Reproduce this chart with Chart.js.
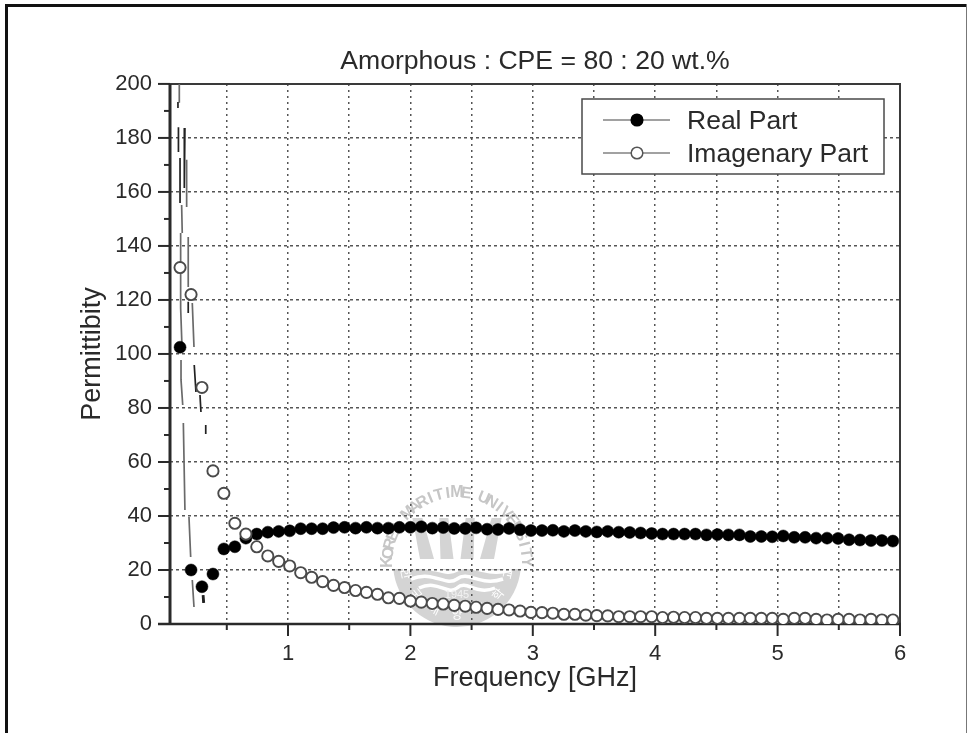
<!DOCTYPE html>
<html>
<head>
<meta charset="utf-8">
<title>Amorphous : CPE = 80 : 20 wt.%</title>
<script src="https://cdn.jsdelivr.net/npm/chart.js@4"></script>
<style>html,body{margin:0;padding:0;background:#fff}canvas{display:block}</style>
</head>
<body>
<canvas id="c" width="968" height="733"></canvas>
<script>
const titleText = 'Amorphous : CPE = 80 : 20 wt.%';
const xTitle = 'Frequency [GHz]';
const yTitle = 'Permittibity';
const seriesNames = ['Real Part', 'Imagenary Part'];

const frequency = [0.118,0.208,0.297,0.387,0.476,0.566,0.656,0.745,0.835,0.924,1.014,1.104,1.193,1.283,1.372,1.462,1.552,1.641,1.731,1.820,1.910,2.000,2.089,2.179,2.268,2.358,2.448,2.537,2.627,2.716,2.806,2.896,2.985,3.075,3.164,3.254,3.344,3.433,3.523,3.612,3.702,3.792,3.881,3.971,4.060,4.150,4.240,4.329,4.419,4.508,4.598,4.688,4.777,4.867,4.956,5.046,5.136,5.225,5.315,5.404,5.494,5.584,5.673,5.763,5.852,5.942];
const realPart = [102.5,20,13.8,18.5,27.8,28.6,31.8,33.3,34,34.3,34.5,35.3,35.3,35.3,35.7,35.8,35.5,35.8,35.5,35.5,35.8,35.8,36,35.5,35.7,35.4,35.4,35.6,35.1,35,35.4,34.9,34.6,34.6,34.7,34.3,34.6,34.3,34.1,34.3,34,33.9,33.7,33.5,33.3,33.3,33.3,33.3,33,33.1,33,33,32.4,32.4,32.3,32.6,32.1,32.1,31.8,31.8,31.7,31.2,31.1,30.9,30.9,30.7];
const imagPart = [132,122,87.6,56.7,48.4,37.3,33.3,28.6,25.2,23.2,21.5,19,17.3,15.7,14.3,13.5,12.4,11.7,11,9.7,9.5,8.5,8.1,7.6,7.4,6.9,6.6,6.2,5.8,5.4,5.2,4.8,4.3,4.2,4,3.6,3.6,3.3,3.1,3,2.7,2.7,2.7,2.7,2.4,2.5,2.4,2.4,2.1,2.1,2.1,2.1,2.1,2.1,2.1,1.7,2.1,2.1,1.7,1.5,1.7,1.7,1.5,1.7,1.5,1.5];

// Surviving fragments of the connecting traces (null = gap), in GHz / permittivity units
const darkTraceX = [0.101,0.101,null,0.105,0.105,null,0.118,0.118,null,0.158,0.153,null,0.185,0.185,null,0.234,0.248,null,0.281,0.289,null,0.328,0.328,null,0.302,0.306,null,0.311,0.316];
const darkTraceY = [193.3,191.1,null,184,174.8,null,172.6,155.9,null,183.7,161.5,null,119.3,115.2,null,95.9,85.9,null,84.8,78.5,null,73.7,70.4,null,10.7,7.8,null,10.7,7.8];
const grayTraceX = [0.112,0.112,null,0.131,0.136,null,0.123,0.123,null,0.123,0.123,0.134,null,0.126,0.126,0.140,null,0.145,0.158,null,0.191,0.205,null,0.218,0.232,null,0.172,0.172,null,0.185,0.185,null,0.218,0.232];
const grayTraceY = [200.2,193,null,155.2,144.8,null,144.8,133.7,null,130,117,102.6,null,97.8,90.4,81.1,null,74.4,42.2,null,39.6,24.8,null,16.3,6.3,null,171.9,154.4,null,143.3,124.8,null,118.9,102.6];

const xTicks = [0.5,1,1.5,2,2.5,3,3.5,4,4.5,5,5.5,6];
const xLabelled = [1,2,3,4,5,6];
const yTicks = [0,20,40,60,80,100,120,140,160,180,200];
const yMinor = [10,30,50,70,90,110,130,150,170,190];
const xMin = 0.036, xMax = 6, yMin = 0, yMax = 200;
const watermarkTop = 'KOREA MARITIME UNIVERSITY';
const watermarkBottom = '한 국 해 양 대 학 교';
const watermarkYear = '1945';

const FONT = '"Liberation Sans", Arial, sans-serif';
const ink = '#2a2a2a';
const zip = (xs, ys) => xs.map((x, i) => ({x, y: ys[i]}));

const paperFrame = {
  id: 'paperFrame',
  beforeDraw(chart) {
    const c = chart.ctx;
    c.save();
    c.fillStyle = '#fff';
    c.fillRect(0, 0, chart.width, chart.height);
    c.fillStyle = '#111';
    c.fillRect(5, 4, 962, 3);
    c.fillRect(5, 4, 3, 729);
    c.fillStyle = '#777';
    c.fillRect(966, 4, 1, 729);
    // watermark emblem
    const cx = 457, cy = 562;
    const g = '#d4d4d4';
    c.beginPath();
    c.arc(cx, cy + 1, 64, 0.03 * Math.PI, 0.97 * Math.PI);
    c.closePath();
    c.fillStyle = g;
    c.fill();
    c.strokeStyle = '#fff';
    c.lineWidth = 3.5;
    [6, 15, 24].forEach((dy, k) => {
      const w = 54 - k * 8;
      c.beginPath();
      c.moveTo(cx - w, cy + dy + 2);
      c.bezierCurveTo(cx - w / 2, cy + dy - 7, cx - w / 4, cy + dy + 10, cx, cy + dy + 2);
      c.bezierCurveTo(cx + w / 4, cy + dy - 7, cx + w / 2, cy + dy + 10, cx + w, cy + dy + 2);
      c.stroke();
    });
    c.fillStyle = g;
    [[-30, 14, -12], [-10, 13, -4], [10, 13, 4], [30, 14, 12]].forEach(([dx, w, lean]) => {
      c.beginPath();
      c.moveTo(cx + dx - w / 2 + lean * 0.8 + 2, cy - 44);
      c.lineTo(cx + dx + w / 2 + lean * 0.8 - 2, cy - 44);
      c.lineTo(cx + dx + w / 2, cy - 3);
      c.lineTo(cx + dx - w / 2, cy - 3);
      c.closePath();
      c.fill();
    });
    const arcText = (text, radius, from, to, font, color, flip) => {
      c.font = font;
      c.fillStyle = color;
      c.textAlign = 'center';
      c.textBaseline = 'middle';
      const chars = Array.from(text);
      chars.forEach((ch, i) => {
        const a = from + (to - from) * i / (chars.length - 1);
        c.save();
        c.translate(cx + radius * Math.cos(a), cy + radius * Math.sin(a));
        c.rotate(flip ? a - Math.PI / 2 : a + Math.PI / 2);
        c.fillText(ch, 0, 0);
        c.restore();
      });
    };
    arcText(watermarkTop, 69, Math.PI * 1.0, Math.PI * 2.0, 'bold 16px ' + FONT, '#c6c6c6', false);
    arcText(watermarkBottom, 52, Math.PI * 0.93, Math.PI * 0.07, '12px "Noto Sans CJK KR"', '#fff', true);
    c.font = '11px ' + FONT;
    c.fillStyle = '#f2f2f2';
    c.textAlign = 'center';
    c.textBaseline = 'middle';
    c.fillText(watermarkYear, cx, cy + 33);
    c.restore();
  }
};

const axesFrame = {
  id: 'axesFrame',
  beforeDatasetsDraw(chart) {
    const {ctx: c, chartArea: a, scales: {x, y}} = chart;
    c.save();
    c.lineCap = 'butt';
    const seg = (x1, y1, x2, y2, w, col) => {
      c.beginPath(); c.moveTo(x1, y1); c.lineTo(x2, y2);
      c.lineWidth = w; c.strokeStyle = col; c.stroke();
    };
    seg(a.left - 1.5, a.top, a.right + 1, a.top, 2, '#3a3a3a');
    seg(a.right, a.top, a.right, a.bottom, 2, '#3a3a3a');
    seg(a.left, a.top, a.left, a.bottom + 1, 3, '#2a2a2a');
    seg(a.left - 12, a.bottom, a.right + 1, a.bottom, 2.5, '#2a2a2a');
    yTicks.forEach(v => { const p = y.getPixelForValue(v); seg(a.left - 12, p, a.left, p, 2, '#2a2a2a'); });
    yMinor.forEach(v => { const p = y.getPixelForValue(v); seg(a.left - 6, p, a.left, p, 2, '#2a2a2a'); });
    xTicks.forEach(v => {
      const p = x.getPixelForValue(v);
      seg(p, a.bottom, p, a.bottom + (xLabelled.includes(v) ? 12 : 6), 2, '#2a2a2a');
    });
    c.restore();
  }
};

const boxLegend = {
  id: 'boxLegend',
  afterDatasetsDraw(chart) {
    const c = chart.ctx;
    c.save();
    c.fillStyle = '#fff';
    c.fillRect(582, 99, 302, 75);
    c.strokeStyle = '#4a4a4a';
    c.lineWidth = 1.5;
    c.strokeRect(582, 99, 302, 75);
    const rows = [[120, '#000', '#000'], [153, '#fff', '#555']];
    rows.forEach(([py, fill, edge], i) => {
      c.beginPath(); c.moveTo(603, py); c.lineTo(670, py);
      c.strokeStyle = '#444'; c.lineWidth = 1.2; c.stroke();
      c.beginPath(); c.arc(637, py, 5.8, 0, Math.PI * 2);
      c.fillStyle = fill; c.fill();
      c.strokeStyle = edge; c.lineWidth = 1.5; c.stroke();
      c.fillStyle = ink;
      c.font = '26.5px ' + FONT;
      c.textAlign = 'left';
      c.textBaseline = 'middle';
      c.fillText(seriesNames[i], 687, py + 1.5);
    });
    c.restore();
  }
};

const traceStyle = {showLine: true, pointRadius: 0, borderWidth: 1.7, spanGaps: false, fill: false, tension: 0};

new Chart(document.getElementById('c'), {
  type: 'scatter',
  data: {
    datasets: [
      Object.assign({label: 'trace dark', data: zip(darkTraceX, darkTraceY), borderColor: '#222', order: 3}, traceStyle),
      Object.assign({label: 'trace gray', data: zip(grayTraceX, grayTraceY), borderColor: '#6a6a6a', order: 3}, traceStyle),
      {label: seriesNames[0], data: zip(frequency, realPart), pointRadius: 6, pointBackgroundColor: '#000', pointBorderColor: '#000', pointBorderWidth: 0.5, showLine: false, order: 2},
      {label: seriesNames[1], data: zip(frequency, imagPart), pointRadius: 5.6, pointBackgroundColor: '#fff', pointBorderColor: '#4a4a4a', pointBorderWidth: 1.9, showLine: false, order: 1}
    ]
  },
  plugins: [paperFrame, axesFrame, boxLegend],
  options: {
    responsive: false,
    animation: false,
    layout: {autoPadding: false, padding: {left: 0, right: 68, top: 0, bottom: 0}},
    plugins: {
      legend: {display: false},
      tooltip: {enabled: false},
      title: {
        display: true,
        text: titleText,
        fullSize: false,
        color: ink,
        font: {family: FONT, size: 26.6, weight: 'normal', lineHeight: 1.2},
        padding: {top: 46, bottom: 6}
      }
    },
    scales: {
      x: {
        type: 'linear',
        min: xMin,
        max: xMax,
        afterBuildTicks(s) { s.ticks = xTicks.map(value => ({value})); },
        afterFit(s) { s.height = 109; },
        grid: {drawTicks: false, color: '#555', lineWidth: 1.5},
        border: {display: false, dash: [2, 4]},
        ticks: {
          autoSkip: false,
          maxRotation: 0,
          padding: 17,
          color: ink,
          font: {family: FONT, size: 22},
          callback: v => (xLabelled.includes(v) ? String(v) : '')
        },
        title: {
          display: true,
          text: xTitle,
          color: ink,
          font: {family: FONT, size: 27, weight: 'normal', lineHeight: 1.2},
          padding: {top: 0, bottom: 38}
        }
      },
      y: {
        type: 'linear',
        min: yMin,
        max: yMax,
        afterBuildTicks(s) { s.ticks = yTicks.map(value => ({value})); },
        afterFit(s) { s.width = 170; },
        grid: {drawTicks: false, color: '#555', lineWidth: 1.5},
        border: {display: false, dash: [3, 3]},
        ticks: {
          autoSkip: false,
          padding: 18,
          color: ink,
          font: {family: FONT, size: 22}
        },
        title: {
          display: true,
          text: yTitle,
          color: ink,
          font: {family: FONT, size: 27, weight: 'normal', lineHeight: 1.2},
          padding: {top: 76, bottom: 0}
        }
      }
    }
  }
});
</script>
</body>
</html>
